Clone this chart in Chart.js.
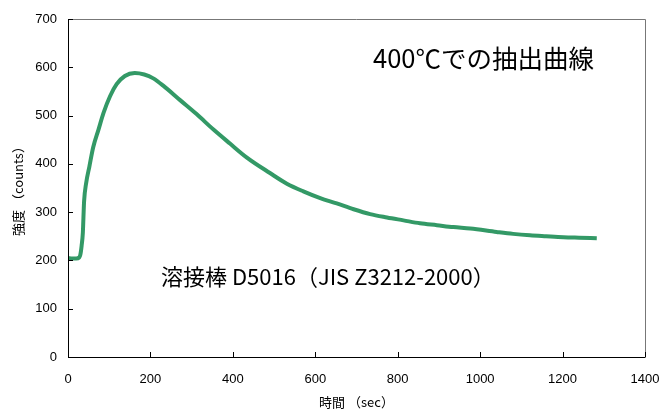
<!DOCTYPE html>
<html>
<head>
<meta charset="utf-8">
<script src="https://cdn.jsdelivr.net/npm/chart.js@4"></script>
<style>
  body { margin: 0; background: #fff; }
  #wrap { width: 662px; height: 410px; }
</style>
</head>
<body>
<div id="wrap"><canvas id="extractChart"></canvas></div>
<script>
const timeSec = [0, 10, 20, 27, 30, 33, 36, 39, 44, 52, 61, 74, 86, 102, 118, 138, 162, 185, 207, 231,
  272, 312, 353, 393, 434, 490, 531, 571, 612, 652, 693, 733, 774, 814, 854, 895, 935, 976,
  1040, 1080, 1121, 1160, 1202, 1240, 1283];
const counts = [205, 204, 204, 206, 212, 230, 257, 322, 360, 395, 434, 471, 505, 540, 565, 582, 588, 585, 577, 562,
  532, 503, 471, 442, 413, 381, 359, 343, 329, 318, 306, 296, 289, 283, 277, 273, 269, 266,
  259, 255, 252, 250, 248, 247, 246];
const xTicks = [0, 200, 400, 600, 800, 1000, 1200, 1400];
const yTicks = [0, 100, 200, 300, 400, 500, 600, 700];
const titleText = '400℃での抽出曲線';
const sampleText = '溶接棒 D5016（JIS Z3212-2000）';

const ctx = document.getElementById('extractChart');

// frame, inner ticks and the two notes
const framePlugin = {
  id: 'frame',
  afterDraw(chart) {
    const c = chart.ctx;
    const a = chart.chartArea;
    const xs = chart.scales.x, ys = chart.scales.y;
    c.save();
    c.strokeStyle = '#777';
    c.lineWidth = 1;
    c.beginPath();
    c.moveTo(a.left, a.top + 0.5);
    c.lineTo(a.right + 0.5, a.top + 0.5);
    c.lineTo(a.right + 0.5, a.bottom);
    c.stroke();
    c.strokeStyle = '#000';
    c.beginPath();
    c.moveTo(a.left + 0.5, a.top);
    c.lineTo(a.left + 0.5, a.bottom + 0.5);
    c.lineTo(a.right + 0.5, a.bottom + 0.5);
    c.stroke();
    c.beginPath();
    yTicks.forEach(v => {
      const y = Math.round(ys.getPixelForValue(v)) + 0.5;
      c.moveTo(a.left, y);
      c.lineTo(a.left + 5, y);
    });
    xTicks.forEach(v => {
      const x = Math.round(xs.getPixelForValue(v)) + 0.5;
      c.moveTo(x, a.bottom);
      c.lineTo(x, a.bottom - 5);
    });
    c.stroke();
    c.fillStyle = '#000';
    c.textBaseline = 'middle';
    c.font = '25.5px "Noto Sans CJK JP"';
    c.fillText(titleText, 373, 58);
    c.font = '22px "Noto Sans CJK JP"';
    c.fillText(sampleText, 161, 277);
    c.restore();
  }
};

new Chart(ctx, {
  type: 'line',
  data: {
    datasets: [{
      data: timeSec.map((t, i) => ({x: t, y: counts[i]})),
      borderColor: '#339966',
      borderWidth: 4,
      pointRadius: 0,
      cubicInterpolationMode: 'monotone'
    }]
  },
  options: {
    responsive: true,
    maintainAspectRatio: false,
    animation: false,
    layout: { padding: { top: 19, right: 17, left: 0, bottom: 0 } },
    plugins: {
      legend: { display: false },
      tooltip: { enabled: false }
    },
    scales: {
      x: {
        type: 'linear',
        min: 0, max: 1400,
        afterBuildTicks: s => { s.ticks = xTicks.map(v => ({value: v})); },
        afterFit: s => { s.height = 53; s.paddingLeft = 0; s.paddingRight = 0; },
        grid: { display: false, drawTicks: false },
        border: { display: false },
        ticks: { padding: 15, color: '#000', font: { family: 'Liberation Sans', size: 13 }, maxRotation: 0,
          callback: v => String(v) },
        title: { display: true, text: '時間 （sec）', color: '#000', padding: { top: 2, bottom: 0 },
          font: { family: 'Noto Sans CJK JP', size: 13 } }
      },
      y: {
        min: 0, max: 700,
        afterBuildTicks: s => { s.ticks = yTicks.map(v => ({value: v})); },
        afterFit: s => { s.width = 68; s.paddingTop = 0; s.paddingBottom = 0; },
        grid: { display: false, drawTicks: false },
        border: { display: false },
        ticks: { padding: 11, color: '#000', font: { family: 'Liberation Sans', size: 13 },
          callback: v => String(v) },
        title: { display: true, text: '強度 （counts）', color: '#000', padding: { top: 10, bottom: 0 },
          font: { family: 'Noto Sans CJK JP', size: 13 } }
      }
    }
  },
  plugins: [framePlugin]
});
</script>
</body>
</html>
